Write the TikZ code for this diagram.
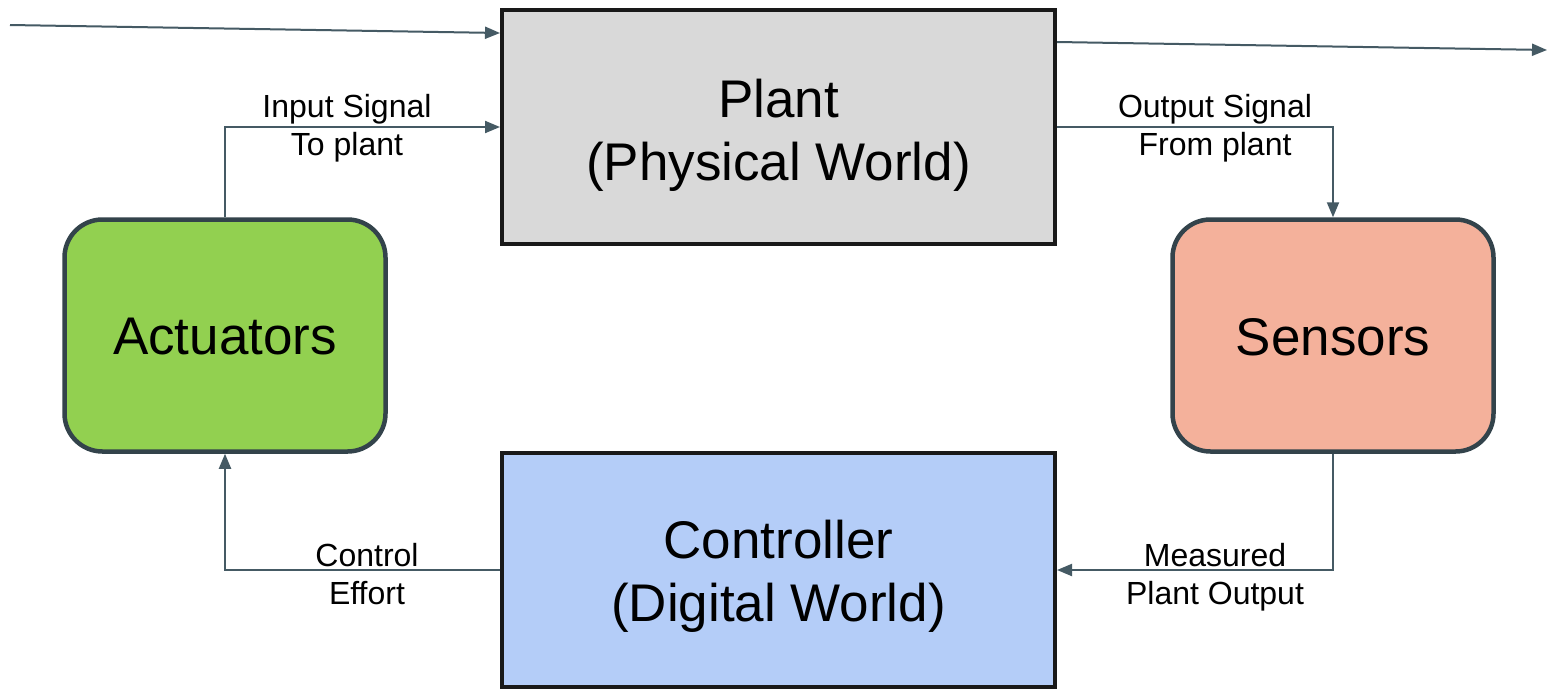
\documentclass[tikz,border=0pt]{standalone}
\usepackage{fontspec}
\setmainfont{Liberation Sans}
\usetikzlibrary{arrows.meta}
\definecolor{wire}{HTML}{455A64}
\definecolor{edge}{HTML}{33434B}
\definecolor{plantfill}{HTML}{D9D9D9}
\definecolor{ctrlfill}{HTML}{B4CDF8}
\definecolor{actfill}{HTML}{92D050}
\definecolor{senfill}{HTML}{F4B19B}
\begin{document}
\begin{tikzpicture}[x=1pt,y=-1pt,
  world/.style={draw=black!90, line width=4pt, minimum width=553pt, minimum height=234pt,
    inner sep=0pt},
  worldtext/.style={align=center, font=\fontsize{53}{63}\selectfont, inner sep=0pt},
  device/.style={draw=edge, line width=4.5pt, rounded corners=38pt, minimum width=321pt,
    minimum height=232pt, inner sep=0pt},
  devicetext/.style={font=\fontsize{53}{60}\selectfont, inner sep=0pt},
  link/.style={draw=wire, line width=2pt, -{Triangle[length=15pt,width=12pt]}},
  tag/.style={align=center, font=\fontsize{32}{38}\selectfont, inner sep=0pt}]
\useasboundingbox (0,0) rectangle (1547,689);
\fill[white] (0,0) rectangle (1547,689);

% blocks
\node[world, fill=plantfill] (plant) at (778.5,127) {};
\node[world, fill=ctrlfill] (ctrl) at (778.5,570) {};
\node[device, fill=actfill] (act) at (225,335.5) {};
\node[device, fill=senfill] (sen) at (1333,335.5) {};

% block titles
\node[worldtext] (planttxt) at (778.5,135) {Plant\\(Physical World)};
\node[worldtext] (ctrltxt) at (778.5,576) {Controller\\(Digital World)};
\node[devicetext] (acttxt) at (225,337) {Actuators};
\node[devicetext] (sentxt) at (1333,337) {Sensors};

% loose ends
\coordinate (inA) at (10,25);
\coordinate (inB) at (500,33);
\coordinate (outA) at (1057,42);
\coordinate (outB) at (1547,50);

\draw[link] (inA) -- (inB);
\draw[link] (outA) -- (outB);

% loop connectors
\draw[link] (act.north) |- (plant.west |- 0,127);
\draw[link] (plant.east |- 0,127) -| (sen.north);
\draw[link] (sen.south) |- (ctrl.east |- 0,570);
\draw[link] (ctrl.west |- 0,570) -| (act.south);

% labels
\node[tag] (lin) at (347,128) {Input Signal\\To plant};
\node[tag] (lout) at (1215,128) {Output Signal\\From plant};
\node[tag] (lmeas) at (1215,577) {Measured\\Plant Output};
\node[tag] (leff) at (367,574) {Control\\Effort};
\end{tikzpicture}
\end{document}
